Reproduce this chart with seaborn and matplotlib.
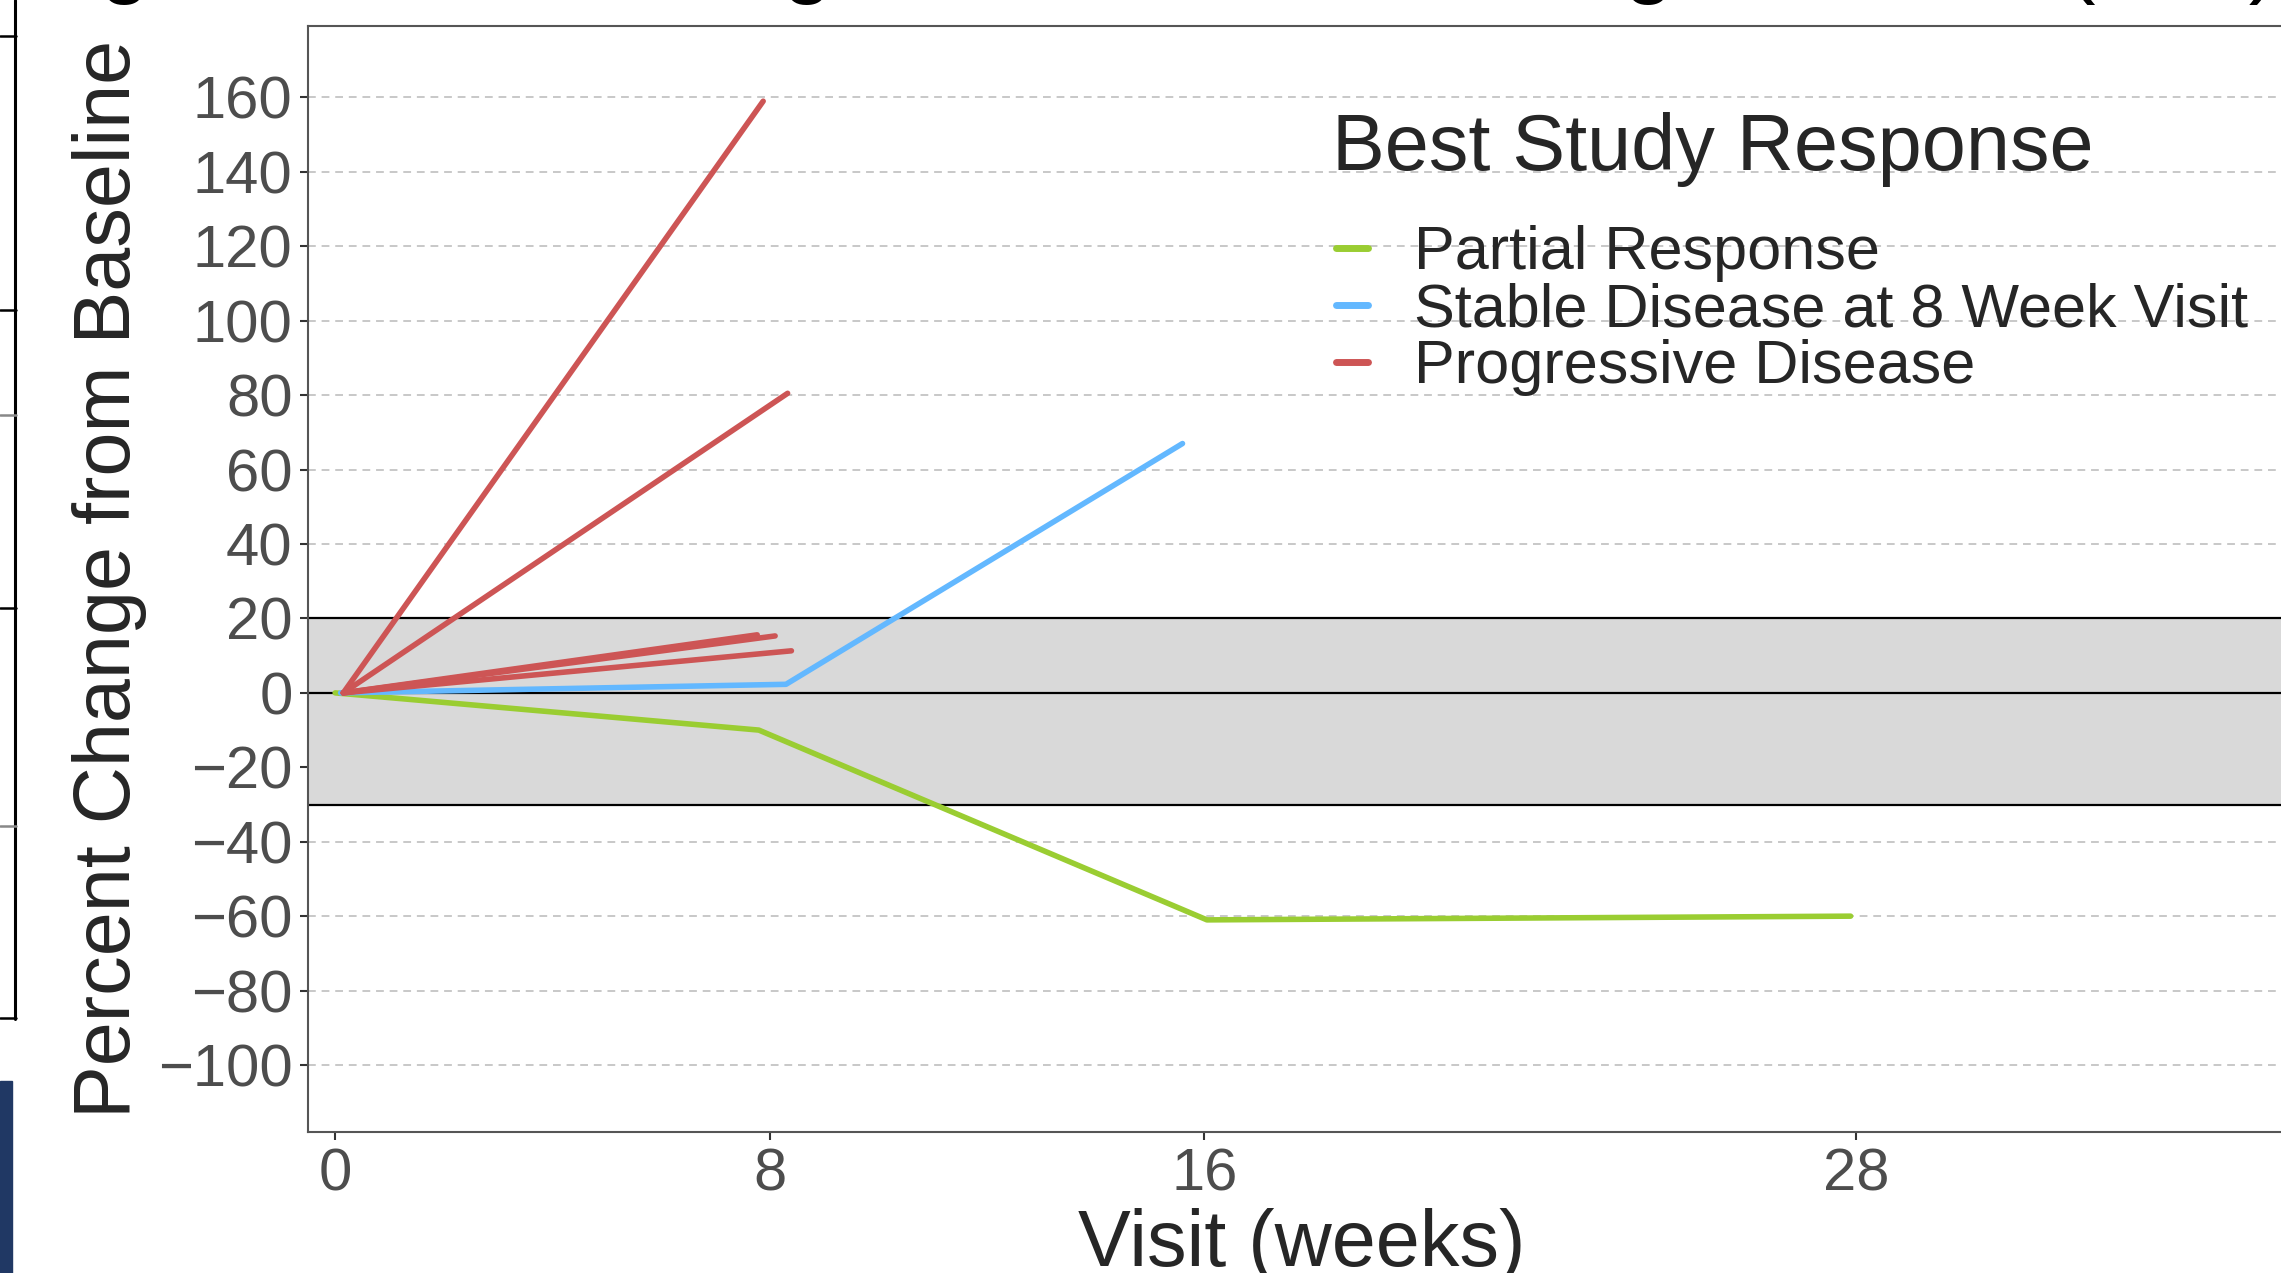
import matplotlib
matplotlib.use("Agg")
import matplotlib.pyplot as plt
from matplotlib.lines import Line2D
from matplotlib.patches import Rectangle
import numpy as np
import pandas as pd
import seaborn as sns

# Percent change from baseline per patient
patients = ["P1", "P2", "P3", "P4", "P5", "P6", "P7"]
response = ["Partial Response", "Stable Disease at 8 Week Visit",
            "Progressive Disease", "Progressive Disease", "Progressive Disease",
            "Progressive Disease", "Progressive Disease"]
visit_weeks = [[0, 7.8, 16.05, 27.9],
               [0.1, 8.3, 15.6],
               [0.15, 7.88],
               [0.15, 8.33],
               [0.15, 7.77],
               [0.15, 8.1],
               [0.15, 8.4]]
pct_change = [[0, -10, -61, -60],
              [0, 2.3, 67],
              [0, 159],
              [0, 80.5],
              [0, 15.6],
              [0, 15.3],
              [0, 11.3]]

response_order = ["Partial Response", "Stable Disease at 8 Week Visit", "Progressive Disease"]
response_colors = ["#9ACD32", "#63B8FF", "#CD5555"]
x_ticks = [0, 8, 16, 28]
y_ticks = list(range(-100, 161, 20))
band = (-30, 20)

rows = []
for pid, resp, wk, pc in zip(patients, response, visit_weeks, pct_change):
    for w, p in zip(wk, pc):
        rows.append({"patient": pid, "response": resp, "week": w, "pct": p})
df = pd.DataFrame(rows)

sns.set_style("white")
plt.rcParams["font.family"] = ["Liberation Sans", "DejaVu Sans"]

W, H = 2281, 1273
fig = plt.figure(figsize=(W / 100, H / 100), dpi=100)
ax = fig.add_axes([308 / W, 1 - 1132 / H, (2296 - 308) / W, (1132 - 26) / H])

# shaded stable zone and reference lines
ax.axhspan(band[0], band[1], color="#D9D9D9", zorder=1, lw=0)
for yv in [band[1], 0, band[0]]:
    ax.axhline(yv, color="black", lw=1.6, zorder=1.5)

sns.lineplot(data=df, x="week", y="pct", hue="response", units="patient",
             estimator=None, hue_order=response_order,
             palette=dict(zip(response_order, response_colors)),
             lw=4, ax=ax, zorder=2, sort=False)

ax.set_xlim(-0.5, 36.1)
ax.set_ylim(-118, 179.2)
ax.set_xticks(x_ticks)
ax.set_yticks(y_ticks)
ax.set_yticklabels([str(v).replace("-", "\u2212") for v in y_ticks])
ax.yaxis.grid(True, ls=(0, (4, 3)), color="#C8C8C8", lw=1.4)
ax.xaxis.grid(False)
ax.set_axisbelow(True)

for s in ax.spines.values():
    s.set_color("#555555")
    s.set_linewidth(1.5)

ax.tick_params(axis="both", labelsize=43, colors="#333333", labelcolor="#4D4D4D",
               length=6, width=1.5, pad=5, direction="out", bottom=True, left=True)
ax.set_xlabel("Visit (weeks)", fontsize=57, labelpad=4)
ax.set_ylabel("Percent Change from Baseline", fontsize=57, labelpad=8)

# legend: title drawn on its own so the gap under it matches
fig.text(1332 / W, 1 - 170 / H, "Best Study Response", fontsize=57,
         ha="left", va="baseline")
leg = ax.legend(loc="center left", bbox_to_anchor=(1336 / W, 1 - 311 / H),
                bbox_transform=fig.transFigure, frameon=False, fontsize=44,
                handlelength=0.52, handletextpad=0.75, labelspacing=0.0,
                borderpad=0, borderaxespad=0)
for h in leg.legend_handles:
    h.set_linewidth(5)

# slide leftovers: cut-off title and table edge on the left
fig.text(-116 / W, 1 - 5 / H, "Change in Sum of Longest Diameter for Target Lesion (n=7)",
         fontsize=65, ha="left", va="bottom", color="black")
fig.add_artist(Line2D([15 / W, 15 / W], [1, 1 - 1019 / H], color="black", lw=2.2))
for yy, c in [(36, "black"), (310, "black"), (415, "#888888"), (608, "black"),
              (826, "#888888"), (1018, "black")]:
    fig.add_artist(Line2D([0, 16 / W], [1 - yy / H, 1 - yy / H], color=c, lw=1.8))
fig.add_artist(Rectangle((0, 0), 12 / W, 1 - 1081 / H, color="#203864",
                         transform=fig.transFigure))

fig.savefig("out.png", dpi=100)
